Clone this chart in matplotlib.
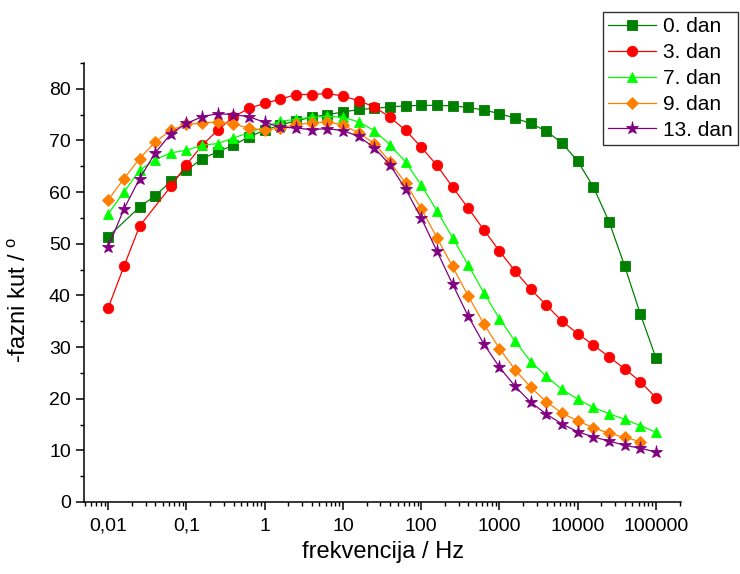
import numpy as np
import matplotlib
matplotlib.use("Agg")
import matplotlib.pyplot as plt
from matplotlib.ticker import LogLocator, FixedLocator, MultipleLocator, NullFormatter

plt.rcParams['font.family'] = ['Liberation Sans', 'DejaVu Sans']
plt.rcParams['mathtext.fontset'] = 'custom'
plt.rcParams['mathtext.rm'] = 'Liberation Sans'

# frequencies: 5 points per decade, 0.01 Hz .. 100 kHz
freq = 10.0 ** (np.arange(36) / 5.0 - 2.0)

nan = np.nan
dan0 = [51.4, nan, 57.1, 59.3, 62.1, 64.2, 66.5, 67.8, 69.1, 70.7, 72.0, 73.0,
        73.8, 74.5, 75.0, 75.5, 76.0, 76.2, 76.5, 76.7, 76.8, 76.8, 76.7, 76.4,
        75.9, 75.2, 74.3, 73.3, 71.8, 69.5, 66.0, 61.0, 54.3, 45.7, 36.4, 27.9]
dan3 = [37.6, 45.6, 53.4, nan, 61.1, 65.3, 69.1, 72.0, 74.6, 76.2, 77.2, 78.0,
        78.9, 78.9, 79.1, 78.6, 77.7, 76.5, 74.5, 72.0, 68.7, 65.2, 61.0, 56.9,
        52.7, 48.6, 44.7, 41.2, 38.1, 35.0, 32.6, 30.4, 28.1, 25.8, 23.3, 20.2]
dan7 = [55.8, 60.0, 64.2, 66.3, 67.6, 68.1, 69.1, 69.4, 70.5, 71.5, 72.6, 73.7,
        74.1, 74.5, 74.7, 74.5, 73.6, 71.9, 69.2, 65.8, 61.4, 56.4, 51.2, 45.9,
        40.5, 35.5, 31.1, 27.2, 24.3, 21.8, 19.9, 18.3, 17.1, 16.0, 14.8, 13.5]
dan9 = [58.5, 62.6, 66.5, 69.7, 72.0, 73.1, 73.4, 73.6, 73.2, 72.4, 72.0, 72.4,
        73.1, 73.4, 73.6, 73.0, 71.5, 69.4, 65.9, 61.7, 56.8, 51.2, 45.6, 39.9,
        34.5, 29.7, 25.6, 22.2, 19.4, 17.2, 15.7, 14.4, 13.3, 12.5, 11.7, nan]
dan13 = [49.4, 56.7, 62.6, 67.6, 71.3, 73.3, 74.6, 75.2, 75.0, 74.6, 73.5, 72.6,
         72.4, 72.1, 72.3, 71.9, 70.8, 68.6, 65.3, 60.6, 55.0, 48.6, 42.2, 36.0,
         30.6, 26.1, 22.4, 19.3, 17.0, 15.1, 13.6, 12.6, 11.8, 11.0, 10.4, 9.7]

labels = ['0. dan', '3. dan', '7. dan', '9. dan', '13. dan']
colors = ['#008000', '#FF0000', '#00FF00', '#FF8000', '#800080']
markers = ['s', 'o', '^', 'D', '*']
msizes = [6.5, 7.5, 7.5, 6.5, 9.5]

xticks = [0.01, 0.1, 1, 10, 100, 1000, 10000, 100000]
xticklabels = ['0,01', '0,1', '1', '10', '100', '1000', '10000', '100000']
yticks = [0, 10, 20, 30, 40, 50, 60, 70, 80]

fig = plt.figure(figsize=(7.4, 5.74), dpi=100)
ax = fig.add_axes([84/740, 72/574, (681-84)/740, (502-63)/574])

for vals, lab, c, m, ms in zip([dan0, dan3, dan7, dan9, dan13], labels, colors, markers, msizes):
    v = np.array(vals, dtype=float)
    ok = ~np.isnan(v)
    ax.plot(freq[ok], v[ok], color=c, marker=m, markersize=ms, linewidth=0.9,
            markeredgewidth=0.6, markeredgecolor=c, label=lab)

ax.set_xscale('log')
ax.set_xlim(0.0049, 209000)
ax.set_ylim(0, 85)
ax.xaxis.set_major_locator(FixedLocator(xticks))
ax.set_xticklabels(xticklabels)
ax.xaxis.set_minor_locator(LogLocator(base=10, subs=np.arange(2, 10), numticks=20))
ax.xaxis.set_minor_formatter(NullFormatter())
ax.set_yticks(yticks)
ax.yaxis.set_minor_locator(MultipleLocator(5))

for s in ['top', 'right']:
    ax.spines[s].set_visible(False)
for s in ['left', 'bottom']:
    ax.spines[s].set_linewidth(1.1)

ax.tick_params(which='major', direction='out', length=5.5, width=1.1, labelsize=14)
ax.tick_params(which='minor', direction='out', length=3, width=1.0)
ax.tick_params(axis='y', which='major', pad=4)
ax.tick_params(axis='x', which='major', pad=6)

ax.set_xlabel('frekvencija / Hz', fontsize=17, labelpad=4)
ax.set_ylabel('-fazni kut / $^{\\mathrm{o}}$', fontsize=17)
ax.yaxis.set_label_coords((31 - 84) / 597, (502 - 300) / 439)

leg = ax.legend(loc='upper right', bbox_to_anchor=(738/740, 1 - 12/574),
                bbox_transform=fig.transFigure, fontsize=15, frameon=True,
                fancybox=False, shadow=False, handlelength=2.3, labelspacing=0.33,
                borderpad=0.25, handletextpad=0.35, borderaxespad=0)
leg.get_frame().set_edgecolor('black')
leg.get_frame().set_linewidth(1.0)

fig.savefig('out.png', dpi=100)
